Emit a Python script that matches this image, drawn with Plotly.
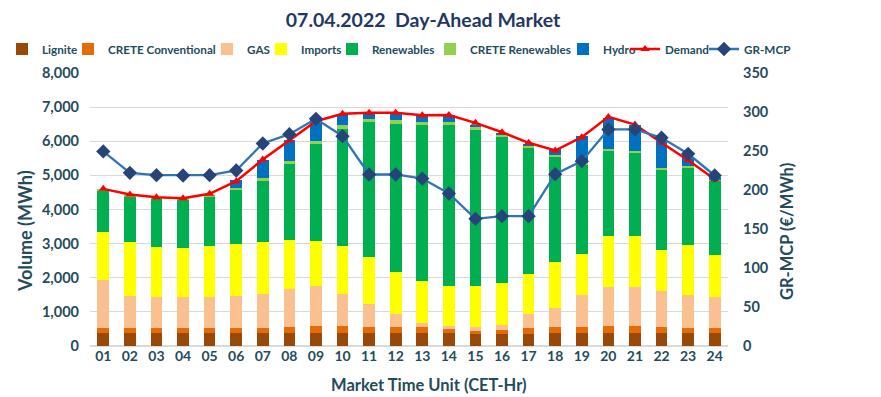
import plotly.graph_objects as go

hours = ["01","02","03","04","05","06","07","08","09","10","11","12",
         "13","14","15","16","17","18","19","20","21","22","23","24"]

lignite = [370,370,370,370,370,370,370,370,370,370,370,370,
           370,370,340,340,340,370,370,370,370,370,370,370]
crete_conv = [152,152,152,152,152,152,172,200,210,210,192,192,
              192,120,95,123,192,192,192,221,221,192,162,143]
gas = [1426,958,908,908,908,958,978,1104,1172,950,683,390,
       118,90,117,167,420,556,928,1132,1132,1064,958,917]
imports = [1397,1582,1485,1447,1495,1505,1533,1435,1319,1395,1368,1222,
           1220,1193,1201,1222,1152,1338,1210,1495,1515,1182,1474,1241]
renewables = [1221,1328,1395,1413,1465,1581,1807,2237,2854,3439,3945,4345,
              4590,4717,4591,4268,3703,3106,2608,2510,2422,2364,2256,2159]
crete_ren = [30,30,30,30,30,59,57,68,87,106,99,97,
             88,88,78,77,68,49,59,58,48,48,69,59]
hydro = [0,0,0,0,0,235,548,635,624,320,155,196,
         205,205,50,30,20,167,780,899,782,782,254,49]
demand = [4605,4440,4360,4330,4460,4830,5465,6030,6587,6803,6832,6832,
          6763,6770,6540,6265,5954,5728,6118,6714,6490,5954,5445,4889]
mcp = [249.4,222,219,218.6,219,225,259.6,271.6,291.3,269,219.9,219.9,
       214.7,195.5,163,166.5,166.4,220.3,237,277.6,277.6,267,246.4,218.6]

FONT = "Lato"
TXT = "#244B5C"

# page body has an 8px margin: work in screen pixels, shift into figure pixels
OFF = 8
W, H = 881 - OFF, 397 - OFF
L, R, T, B = 90 - OFF, 728 - OFF, 73 - OFF, 346 - OFF
def px(x): return (x - OFF - L) / (R - L)
def py(y): return (B - (y - OFF)) / (B - T)

series = [
    ("Lignite", lignite, "#984807"),
    ("CRETE Conventional", crete_conv, "#E36C09"),
    ("GAS", gas, "#FAC090"),
    ("Imports", imports, "#FFFF00"),
    ("Renewables", renewables, "#00B050"),
    ("CRETE Renewables", crete_ren, "#92D050"),
    ("Hydro", hydro, "#0070C0"),
]
text_starts = [44, 110, 249, 303, 374, 472, 605, 667, 746]

fig = go.Figure()
for i, (name, vals, col) in enumerate(series):
    fig.add_trace(go.Bar(x=hours, y=vals, name=name, marker_color=col,
                         marker_line_width=0,
                         legend="legend" if i == 0 else f"legend{i+1}"))
fig.add_trace(go.Scatter(x=hours, y=demand, name="Demand", mode="lines+markers",
                         line=dict(color="#FF0000", width=2.5),
                         marker=dict(symbol="triangle-up", size=8, color="#FF0000"),
                         legend="legend8"))
fig.add_trace(go.Scatter(x=hours, y=mcp, name="GR-MCP", mode="lines+markers",
                         yaxis="y2",
                         line=dict(color="#2E75B6", width=2.3),
                         marker=dict(symbol="diamond", size=11, color="#264478"),
                         legend="legend9"))

legends = {}
for i, ts in enumerate(text_starts):
    key = "legend" if i == 0 else f"legend{i+1}"
    legends[key] = dict(orientation="h", x=px(ts - 42), xanchor="left",
                        y=py(49), yanchor="middle", bgcolor="rgba(0,0,0,0)",
                        font=dict(family=FONT, size=11.7, color=TXT, weight="bold"),
                        itemwidth=30, traceorder="normal")

annotations = [
    dict(text="Volume (MWh)", x=px(25), y=py(231), xref="paper", yref="paper",
         showarrow=False, textangle=-90, xanchor="center", yanchor="middle",
         font=dict(family=FONT, size=18, color=TXT, weight="bold")),
    dict(text="GR-MCP (€/MWh)", x=px(787), y=py(232), xref="paper", yref="paper",
         showarrow=False, textangle=-90, xanchor="center", yanchor="middle",
         font=dict(family=FONT, size=16.5, color=TXT, weight="bold")),
    dict(text="Market Time Unit (CET-Hr)", x=px(429), y=py(385), xref="paper", yref="paper",
         showarrow=False, xanchor="center", yanchor="middle",
         font=dict(family=FONT, size=16.5, color=TXT, weight="bold")),
]

fig.update_layout(
    width=W, height=H,
    margin=dict(l=L, r=W - R, t=T, b=H - B, pad=0, autoexpand=False),
    paper_bgcolor="white", plot_bgcolor="white",
    showlegend=True,
    barmode="stack", bargap=0.56,
    title=dict(text="07.04.2022  Day-Ahead Market", x=(423 - OFF) / W, xanchor="center",
               xref="container", y=1 - (20 - OFF) / H, yanchor="middle",
               font=dict(family=FONT, size=19.5, color="#1F3864", weight="bold")),
    xaxis=dict(type="category", range=[-0.5, 23.5], showgrid=False, ticks="", showline=False,
               tickfont=dict(family=FONT, size=14, color=TXT, weight="bold")),
    yaxis=dict(range=[0, 8000], dtick=1000, tickformat=",", showgrid=True,
               gridcolor="#D9D9D9", gridwidth=1, zeroline=True, zerolinecolor="#D9D9D9",
               ticks="", ticklabelstandoff=10,
               tickfont=dict(family=FONT, size=14.5, color=TXT, weight="bold")),
    yaxis2=dict(range=[0, 350], dtick=50, overlaying="y", side="right",
                showgrid=False, zeroline=False, ticks="", ticklabelstandoff=14,
                tickfont=dict(family=FONT, size=14.5, color=TXT, weight="bold")),
    annotations=annotations,
    **legends,
)

fig.write_html("out.html")
